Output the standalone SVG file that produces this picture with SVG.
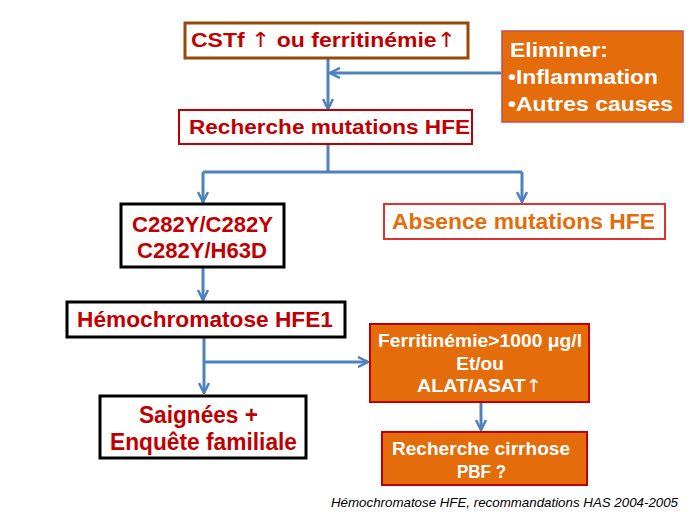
<svg xmlns="http://www.w3.org/2000/svg" width="689" height="517" viewBox="0 0 689 517">
<style>
text{font-family:"Liberation Sans",Arial,sans-serif;font-weight:bold;}
.red{fill:#c00000;}
.wh{fill:#ffffff;}
.or{fill:#e46c0a;}
.c{text-anchor:middle;}
.ar{font-family:"DejaVu Sans",sans-serif;font-weight:normal;}
.cite{font-weight:normal;font-style:italic;fill:#000;}
.conn{stroke:#4f81bd;stroke-width:3;fill:none;}
</style>
<defs>
<marker id="ah" viewBox="0 0 12 12" refX="11" refY="6" markerWidth="12" markerHeight="12" markerUnits="userSpaceOnUse" orient="auto">
<path d="M1,1 L11,6 L1,11" fill="none" stroke="#4f81bd" stroke-width="2.5"/>
</marker>
</defs>
<rect width="689" height="517" fill="#ffffff"/>
<g id="connectors">
<line class="conn" x1="328" y1="58" x2="328" y2="109" marker-end="url(#ah)"/>
<line class="conn" x1="501" y1="73" x2="330" y2="73" marker-end="url(#ah)"/>
<polyline class="conn" points="328,144 328,172"/>
<line class="conn" x1="203" y1="172" x2="522" y2="172"/>
<line class="conn" x1="203" y1="172" x2="203" y2="202" marker-end="url(#ah)"/>
<line class="conn" x1="522" y1="172" x2="522" y2="202" marker-end="url(#ah)"/>
<line class="conn" x1="203" y1="267" x2="203" y2="300" marker-end="url(#ah)"/>
<line class="conn" x1="204" y1="338" x2="204" y2="393" marker-end="url(#ah)"/>
<line class="conn" x1="204" y1="362" x2="368" y2="362" marker-end="url(#ah)"/>
<line class="conn" x1="481" y1="402" x2="481" y2="430" marker-end="url(#ah)"/>
</g>
<g id="n-cstf">
<rect x="185" y="23" width="283" height="35" fill="#fff" stroke="#984807" stroke-width="3"/>
<text class="red" x="191" y="47" font-size="21" textLength="265" lengthAdjust="spacingAndGlyphs">CSTf <tspan class="ar">↑</tspan> ou ferritinémie<tspan class="ar">↑</tspan></text>
</g>
<g id="n-eliminer">
<rect x="502" y="31" width="181" height="91" fill="#e46c0a" stroke="#c0504d" stroke-width="1.5"/>
<text class="wh" x="510" y="57" font-size="21" textLength="98" lengthAdjust="spacingAndGlyphs">Eliminer:</text>
<text class="wh" x="508" y="84" font-size="21" textLength="150" lengthAdjust="spacingAndGlyphs">•Inflammation</text>
<text class="wh" x="508" y="111" font-size="21" textLength="165" lengthAdjust="spacingAndGlyphs">•Autres causes</text>
</g>
<g id="n-recherche">
<rect x="179" y="110" width="293" height="34" fill="#fff" stroke="#c00000" stroke-width="2"/>
<text class="red" x="189" y="134" font-size="20" textLength="281" lengthAdjust="spacingAndGlyphs">Recherche mutations HFE</text>
</g>
<g id="n-c282y">
<rect x="121" y="204" width="163" height="63" fill="#fff" stroke="#000" stroke-width="3"/>
<text class="red" x="132" y="232" font-size="22" textLength="141" lengthAdjust="spacingAndGlyphs">C282Y/C282Y</text>
<text class="red" x="137" y="258" font-size="22" textLength="130" lengthAdjust="spacingAndGlyphs">C282Y/H63D</text>
</g>
<g id="n-absence">
<rect x="384" y="204" width="281" height="35" fill="#fff" stroke="#e03030" stroke-width="2"/>
<text class="or" x="392" y="229" font-size="22" textLength="263" lengthAdjust="spacingAndGlyphs">Absence mutations HFE</text>
</g>
<g id="n-hemo">
<rect x="67" y="302" width="278" height="35" fill="#fff" stroke="#000" stroke-width="3"/>
<text class="red" x="77" y="327" font-size="22" textLength="256" lengthAdjust="spacingAndGlyphs">Hémochromatose HFE1</text>
</g>
<g id="n-ferri">
<rect x="370" y="324" width="219" height="78" fill="#e46c0a" stroke="#c00000" stroke-width="2"/>
<text class="wh" x="378" y="347" font-size="18" textLength="204" lengthAdjust="spacingAndGlyphs">Ferritinémie&gt;1000 μg/l</text>
<text class="wh c" x="480" y="370" font-size="19">Et/ou</text>
<text class="wh" x="417" y="392" font-size="18" textLength="125" lengthAdjust="spacingAndGlyphs">ALAT/ASAT<tspan class="ar">↑</tspan></text>
</g>
<g id="n-saignees">
<rect x="100" y="396" width="206" height="62" fill="#fff" stroke="#000" stroke-width="3"/>
<text class="red" x="139" y="423" font-size="23" textLength="119" lengthAdjust="spacingAndGlyphs">Saignées +</text>
<text class="red" x="110" y="450" font-size="23" textLength="187" lengthAdjust="spacingAndGlyphs">Enquête familiale</text>
</g>
<g id="n-cirrhose">
<rect x="382" y="432" width="205" height="53" fill="#e46c0a" stroke="#c00000" stroke-width="2"/>
<text class="wh" x="392" y="455" font-size="18" textLength="178" lengthAdjust="spacingAndGlyphs">Recherche cirrhose</text>
<text class="wh" x="457" y="478" font-size="18" textLength="49" lengthAdjust="spacingAndGlyphs">PBF ?</text>
</g>
<text class="cite" x="331" y="507" font-size="13" textLength="347" lengthAdjust="spacingAndGlyphs">Hémochromatose HFE, recommandations HAS 2004-2005</text>
</svg>
